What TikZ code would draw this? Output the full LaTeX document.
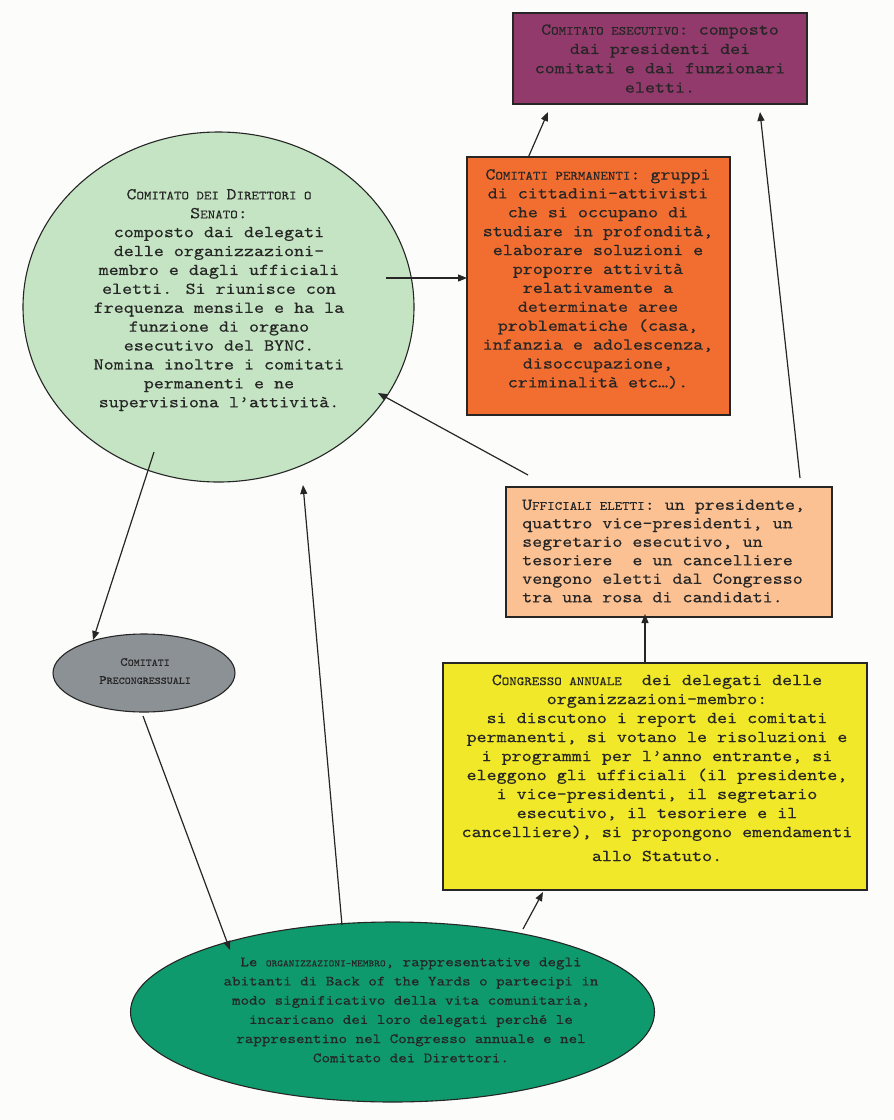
\documentclass[tikz,border=0pt]{standalone}
\usepackage{fontspec}
% typewriter face widened to the metrics of a Courier-style font
\setmainfont{lmmono10-regular}[Extension=.otf, FakeStretch=1.143, FakeBold=0.35]
\usetikzlibrary{shapes.geometric,arrows.meta}

\definecolor{pagebg}{HTML}{FCFCFA}
\definecolor{inkc}{HTML}{262626}
\definecolor{execfill}{HTML}{923A6B}
\definecolor{permfill}{HTML}{F26E30}
\definecolor{dirfill}{HTML}{C5E4C3}
\definecolor{offfill}{HTML}{FCC192}
\definecolor{congfill}{HTML}{F0E828}
\definecolor{prefill}{HTML}{8C9196}
\definecolor{orgfill}{HTML}{0E9A6C}

% fake small caps: first letter full size, the rest in smaller capitals
\newcommand\sk[3][12.5]{#2{\fontsize{#1}{#1}\selectfont #3}}

\begin{document}
\begin{tikzpicture}[x=1pt,y=-1pt,
  shapebox/.style={draw=inkc, line width=1.1pt, inner sep=0pt, outer sep=0pt},
  blob/.style={ellipse, draw=inkc, line width=1.1pt, inner sep=0pt, outer sep=0pt},
  txt/.style={align=center, inner sep=0pt, text=inkc, font=\fontsize{16.7}{18.9}\selectfont},
  arr/.style={-{Triangle[length=9pt,width=7pt]}, line width=1.2pt, draw=inkc}]

\fill[pagebg] (0,0) rectangle (894,1120);
\useasboundingbox (0,0) rectangle (894,1120);

% ---- shapes ----
\node[shapebox, fill=execfill, minimum width=294pt, minimum height=91pt] (exec) at (660,58.5) {};
\node[txt, font=\fontsize{16.7}{19.3}\selectfont] (exectxt) at (660,58.5)
  {\sk{C}{OMITATO ESECUTIVO}: composto\\dai presidenti dei\\comitati e dai funzionari\\eletti.};

\node[shapebox, fill=permfill, minimum width=263pt, minimum height=258pt] (perm) at (598.5,286) {};
\node[txt] (permtxt) at (598,279)
  {\sk{C}{OMITATI PERMANENTI}: gruppi\\di cittadini-attivisti\\che si occupano di\\studiare in profondità,\\elaborare soluzioni e\\proporre attività\\relativamente a\\determinate aree\\problematiche (casa,\\infanzia e adolescenza,\\disoccupazione,\\criminalità etc…).};

\node[blob, fill=dirfill, minimum width=391pt, minimum height=350pt] (dir) at (218.5,307) {};
\node[txt] (dirtxt) at (219,300)
  {\sk{C}{OMITATO DEI }\sk{D}{IRETTORI O}\\\sk{S}{ENATO}:\\composto dai delegati\\delle organizzazioni-\\membro e dagli ufficiali\\eletti. Si riunisce con\\frequenza mensile e ha la\\funzione di organo\\esecutivo del BYNC.\\Nomina inoltre i comitati\\permanenti e ne\\supervisiona l’attività.};

\node[shapebox, fill=offfill, minimum width=326pt, minimum height=130pt] (off) at (669,552) {};
\node[txt, align=left, anchor=west, font=\fontsize{16.7}{18.5}\selectfont] (offtxt) at (522,551)
  {\sk{U}{FFICIALI ELETTI}: un presidente,\\quattro vice-presidenti, un\\segretario esecutivo, un\\tesoriere~ e un cancelliere\\vengono eletti dal Congresso\\tra una rosa di candidati.};

\node[shapebox, fill=congfill, minimum width=424pt, minimum height=227pt] (cong) at (655,776.5) {};
\node[txt, font=\fontsize{16.7}{19}\selectfont] (congtxt) at (657,768)
  {\sk{C}{ONGRESSO ANNUALE}~ dei delegati delle\\organizzazioni-membro:\\si discutono i report dei comitati\\permanenti, si votano le risoluzioni e\\i programmi per l’anno entrante, si\\eleggono gli ufficiali (il presidente,\\i vice-presidenti, il segretario\\esecutivo, il tesoriere e il\\cancelliere), si propongono emendamenti\\[5pt]allo Statuto.};

\node[blob, fill=prefill, minimum width=182pt, minimum height=78pt] (pre) at (144,673) {};
\node[txt, font=\fontsize{12.5}{18}\selectfont] (pretxt) at (145,671)
  {\sk[10]{C}{OMITATI}\\\sk[10]{P}{RECONGRESSUALI}};

\node[blob, fill=orgfill, minimum width=524pt, minimum height=180pt] (org) at (392.5,1012) {};
\node[txt, font=\fontsize{14.2}{19.2}\selectfont] (orgtxt) at (411,1010)
  {Le \sk[9.5]{}{ORGANIZZAZIONI-MEMBRO}, rappresentative degli\\abitanti di Back of the Yards o partecipi in\\modo significativo della vita comunitaria,\\incaricano dei loro delegati perché le\\rappresentino nel Congresso annuale e nel\\Comitato dei Direttori.};

% ---- connector ends ----
\coordinate (permUp)   at (528,158);
\coordinate (execL)    at (548,112);
\coordinate (offUp)    at (800,478);
\coordinate (execR)    at (760,112);
\coordinate (dirOut)   at (386,278);
\coordinate (offLeft)  at (528,475);
\coordinate (dirIn)    at (378,393);
\coordinate (dirDown)  at (154,452);
\coordinate (preIn)    at (93,640);
\coordinate (preOut)   at (143,716);
\coordinate (orgIn)    at (230,950);
\coordinate (orgUpL)   at (342,925);
\coordinate (dirBot)   at (303,485);
\coordinate (orgUpR)   at (523,929);
\coordinate (congIn)   at (543,892);

% ---- connectors ----
\draw[arr] (permUp) -- (execL);
\draw[arr] (offUp) -- (execR);
\draw[arr] (dirOut) -- (dirOut -| perm.west);
\draw[arr] (offLeft) -- (dirIn);
\draw[arr] (dirDown) -- (preIn);
\draw[arr] (preOut) -- (orgIn);
\draw[arr] (orgUpL) -- (dirBot);
\draw[arr] (orgUpR) -- (congIn);
\draw[arr] (cong.north -| 645,0) -- ([yshift=3pt]off.south -| 645,0);
\end{tikzpicture}
\end{document}
